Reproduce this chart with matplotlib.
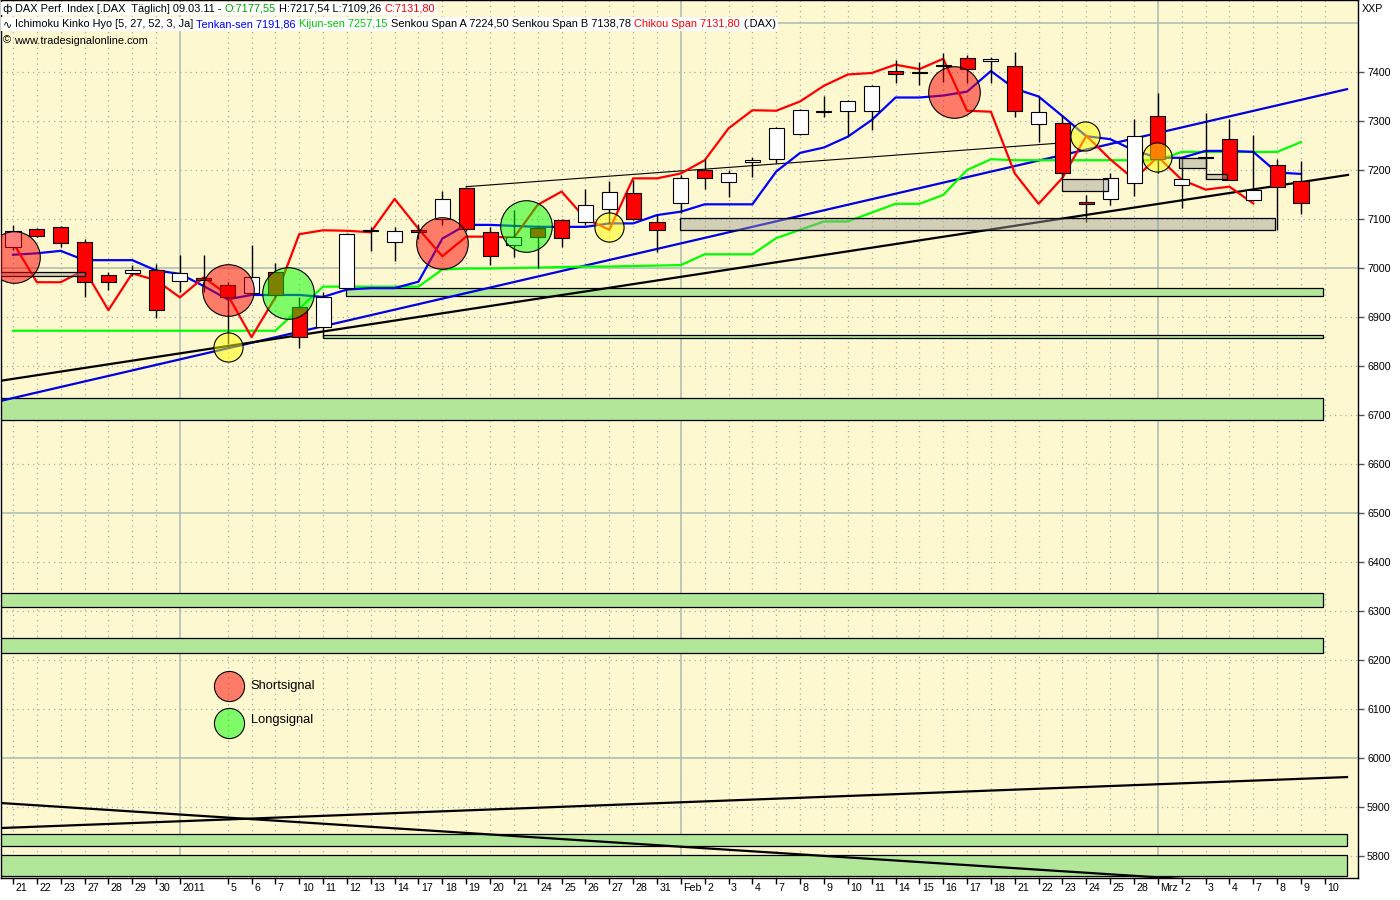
import matplotlib
matplotlib.use("Agg")
import matplotlib.pyplot as plt
from matplotlib.offsetbox import TextArea, HPacker, AnchoredOffsetbox
from matplotlib.transforms import ScaledTranslation

plt.rcParams['font.family'] = ['Liberation Sans', 'DejaVu Sans']

# ---- data (trading days 21.12.2010 - 10.03.2011) ----
day_labels = ['21', '22', '23', '27', '28', '29', '30', '2011', '', '5',
              '6', '7', '10', '11', '12', '13', '14', '17', '18', '19',
              '20', '21', '24', '25', '26', '27', '28', '31', 'Feb', '2',
              '3', '4', '7', '8', '9', '10', '11', '14', '15', '16',
              '17', '18', '21', '22', '23', '24', '25', '28', 'Mrz', '2',
              '3', '4', '7', '8', '9', '10']
month_starts = ['2011', 'Feb', 'Mrz']

opens = [7043, 7079, 7083, 7054, 6985, 6989, 6995, 6973, 6979, 6965,
         6948, 6992, 6920, 6879, 6959, 7075, 7054, 7078, 7100, 7163,
         7074, 7047, 7081, 7098, 7093, 7120, 7154, 7093, 7132, 7201,
         7175, 7216, 7222, 7273, 7318, 7321, 7320, 7403, 7400, 7413,
         7428, 7422, 7412, 7294, 7295, 7134, 7141, 7173, 7310, 7169,
         7224, 7263, 7139, 7210, 7177.55]
highs = [7088, 7082, 7085, 7059, 6992, 7006, 7008, 7027, 7027, 6972,
         7047, 7010, 6941, 6952, 7071, 7084, 7084, 7090, 7158, 7165,
         7084, 7118, 7088, 7101, 7161, 7178, 7180, 7108, 7190, 7222,
         7200, 7226, 7288, 7325, 7351, 7342, 7373, 7424, 7421, 7438,
         7435, 7430, 7441, 7350, 7312, 7150, 7193, 7305, 7357, 7226,
         7316, 7305, 7271, 7222, 7217.54]
lows = [7037, 7064, 7042, 6941, 6955, 6984, 6897, 6952, 6952, 6845,
        6946, 6940, 6836, 6860, 6957, 7035, 7014, 7060, 7088, 7075,
        7006, 7023, 6999, 7042, 7088, 7090, 7099, 7033, 7112, 7161,
        7144, 7185, 7214, 7271, 7309, 7269, 7282, 7377, 7373, 7380,
        7378, 7378, 7309, 7258, 7183, 7093, 7129, 7147, 7193, 7122,
        7181, 7180, 7137, 7078, 7109.26]
closes = [7076, 7066, 7052, 6971, 6971, 6996, 6914, 6989, 6975, 6940,
          6981, 6945, 6859, 6940, 7069, 7077, 7076, 7073, 7141, 7080,
          7024, 7064, 7064, 7062, 7129, 7156, 7101, 7078, 7183, 7183,
          7193, 7220, 7285, 7322, 7321, 7340, 7372, 7395, 7398, 7415,
          7406, 7427, 7321, 7319, 7193, 7131, 7184, 7270, 7222, 7181,
          7227, 7180, 7160, 7166, 7131.80]

tenkan = [7027, 7030, 7035, 7016, 7016, 7016, 6995, 6988, 6963, 6936,
          6945, 6945, 6945, 6941, 6956, 6959, 6959, 6972, 7060, 7088,
          7088, 7086, 7084, 7084, 7084, 7091, 7091, 7108, 7115, 7130,
          7130, 7130, 7197, 7235, 7246, 7268, 7302, 7348, 7348, 7352,
          7360, 7402, 7366, 7350, 7310, 7269, 7263, 7240, 7225, 7225,
          7239, 7239, 7237, 7195, 7192]
kijun = [6872, 6872, 6872, 6872, 6872, 6872, 6872, 6872, 6872, 6872,
         6872, 6872, 6917, 6962, 6962, 6962, 6962, 6962, 6997, 6999,
         6999, 7000, 7001, 7002, 7003, 7003, 7004, 7005, 7006, 7028,
         7028, 7028, 7061, 7078, 7095, 7095, 7113, 7131, 7131, 7149,
         7200, 7222, 7220, 7220, 7220, 7220, 7220, 7220, 7220, 7237,
         7237, 7237, 7237, 7237, 7257]
chikou_shift = 2

# trend lines: (x from, x to) in bar index, (value from, value to)
blue_trend_x, blue_trend_y = [-0.5, 55.93], [6729, 7365]
black_trend_x, black_trend_y = [-0.5, 55.97], [6770, 7190]
thin_trend_x, thin_trend_y = [19, 43.9], [7166, 7255]
low_up_x, low_up_y = [-0.5, 55.93], [5857, 5961]
low_down_x, low_down_y = [-0.5, 49.06], [5908, 5753]

# zones: start index, end index, low value, high value
green_zones = [(13.95, 54.92, 6943, 6959),
               (12.99, 54.92, 6857, 6863),
               (-0.6, 54.92, 6690, 6735),
               (-0.6, 54.92, 6308, 6337),
               (-0.6, 54.92, 6214, 6245),
               (-0.6, 55.93, 5820, 5845),
               (-0.6, 55.93, 5759, 5802)]
gap_boxes = [(27.98, 52.9, 7078, 7103),
             (-0.6, 3.0, 6984, 6992),
             (44.0, 45.9, 7157, 7181),
             (48.9, 50.0, 7204, 7225),
             (50.0, 50.9, 7181, 7191)]

short_x, short_y = [0.04, 9.0, 18.0, 39.46], [7022, 6955, 7051, 7359]
long_x, long_y = [11.52, 21.49], [6949, 7086]
small_x, small_y = [9.0, 24.97, 44.95, 47.97], [6839, 7084, 7269, 7227]

BG = '#fdf8cf'
GRID = '#a7bdb2'
DOTS = '#9fb3ac'

fig = plt.figure(figsize=(14, 9), dpi=100)
fig.patch.set_facecolor('white')
ax = fig.add_axes([1 / 1400, 22 / 900, 1357 / 1400, 878 / 900])
ax.set_facecolor(BG)
ax.set_xlim(-0.503, 56.39)
ax.set_ylim(5755, 7547)

n = len(closes)
idx = list(range(n))

# grid
for i, lab in enumerate(day_labels):
    if not lab:
        continue
    if lab in month_starts:
        ax.axvline(i, color=GRID, lw=1.1, zorder=0.5)
    else:
        ax.axvline(i, color=DOTS, lw=0.9, ls=(0, (1, 3.2)), zorder=0.5)
for v in range(5800, 7501, 100):
    if v % 500 == 0:
        ax.axhline(v, color=GRID, lw=1.1, zorder=0.5)
    else:
        ax.axhline(v, color=DOTS, lw=0.9, ls=(0, (1, 3.2)), zorder=0.5)

# zones
for x0, x1, lo, hi in green_zones:
    ax.add_patch(plt.Rectangle((x0, lo), x1 - x0, hi - lo, facecolor='#b2e799',
                               edgecolor='black', lw=0.9, zorder=1))

# trend lines
ax.plot(blue_trend_x, blue_trend_y, color='#0000e0', lw=1.6, zorder=2)
ax.plot(black_trend_x, black_trend_y, color='black', lw=1.6, zorder=2)
ax.plot(thin_trend_x, thin_trend_y, color='black', lw=0.8, zorder=2)
ax.plot(low_up_x, low_up_y, color='black', lw=1.6, zorder=2)
ax.plot(low_down_x, low_down_y, color='black', lw=1.6, zorder=2)

# ichimoku
ax.plot(idx, kijun, color='#00ff00', lw=1.6, zorder=2.5)
ax.plot(idx, tenkan, color='#0000ff', lw=1.6, zorder=2.5)
ax.plot(idx[:n - chikou_shift], closes[chikou_shift:], color='#ff0000', lw=1.6, zorder=2.6)

# candles
ax.vlines(idx, lows, highs, color='black', lw=1, zorder=3)
bottoms = [min(o, c) for o, c in zip(opens, closes)]
heights = [max(abs(c - o), 1.2) for o, c in zip(opens, closes)]
colors = ['white' if c >= o else '#ff0000' for o, c in zip(opens, closes)]
ax.bar(idx, heights, bottom=bottoms, width=0.63, color=colors,
       edgecolor='black', lw=0.8, zorder=3.5)

# gap boxes
for x0, x1, lo, hi in gap_boxes:
    ax.add_patch(plt.Rectangle((x0, lo), x1 - x0, hi - lo, facecolor=(0.62, 0.62, 0.6, 0.45),
                               edgecolor='black', lw=0.9, zorder=4))

# signals
big = 1380
ax.scatter(short_x, short_y, s=big, facecolors=[(1, 0, 0, 0.5)], edgecolors='black', lw=0.8, zorder=5)
ax.scatter(long_x, long_y, s=big, facecolors=[(0, 1, 0, 0.5)], edgecolors='black', lw=0.8, zorder=5)
ax.scatter(small_x, small_y, s=440, facecolors=[(1, 1, 0, 0.5)], edgecolors='black', lw=0.8, zorder=5)

# signal legend
ax.scatter([0.168], [0.2187], s=470, transform=ax.transAxes, facecolors=[(1, 0, 0, 0.5)],
           edgecolors='black', lw=0.8, zorder=6)
ax.scatter([0.168], [0.1766], s=470, transform=ax.transAxes, facecolors=[(0, 1, 0, 0.5)],
           edgecolors='black', lw=0.8, zorder=6)
ax.text(0.184, 0.2187, 'Shortsignal', transform=ax.transAxes, va='center', size=9.3)
ax.text(0.184, 0.1800, 'Longsignal', transform=ax.transAxes, va='center', size=9.3)

# axes
for sp in ax.spines.values():
    sp.set_color('black')
    sp.set_linewidth(1)
ax.yaxis.tick_right()
ax.set_yticks(range(5800, 7401, 100))
ax.set_yticklabels([str(v) for v in range(5800, 7401, 100)])
ax.tick_params(axis='y', direction='out', length=4, width=1, pad=2.5, labelsize=7.7,
               color='#555555')
ticks = [i for i, lab in enumerate(day_labels) if lab]
ax.set_xticks(ticks)
ax.set_xticklabels([day_labels[i] for i in ticks])
ax.tick_params(axis='x', direction='out', length=4, width=1, pad=-0.6, labelsize=7.7)
shift = ScaledTranslation(2.5 / 100, 0, fig.dpi_scale_trans)
for t in ax.get_xticklabels():
    t.set_ha('left')
    t.set_transform(t.get_transform() + shift)

fig.text(1362 / 1400, 1 - 9 / 900, 'XXP', size=7.7, va='center', ha='left')


# header
def header(parts, top_px, white):
    areas = []
    for txt, col, fam in parts:
        areas.append(TextArea(txt, textprops=dict(color=col, size=7.9, family=fam)))
    pack = HPacker(children=areas, align='baseline', pad=0, sep=2.3)
    box = AnchoredOffsetbox(loc='upper left', child=pack, pad=0.14, borderpad=0,
                            frameon=white, bbox_to_anchor=(1 / 1400, 1 - top_px / 900),
                            bbox_transform=fig.transFigure, prop=dict(size=7.9))
    box.patch.set_boxstyle('square,pad=0')
    box.patch.set_facecolor('white')
    box.patch.set_edgecolor('none')
    box.set_zorder(10)
    fig.add_artist(box)


LS = ['Liberation Sans', 'DejaVu Sans']
DJ = ['DejaVu Sans']
header([('ф', 'black', DJ),
        ('DAX Perf. Index [.DAX  Täglich] 09.03.11 -', 'black', LS),
        ('O:7177,55', '#00a000', LS),
        ('H:7217,54 L:7109,26', 'black', LS),
        ('C:7131,80', '#ff0000', LS)], 2, True)
header([('∿', 'black', DJ),
        ('Ichimoku Kinko Hyo [5, 27, 52, 3, Ja]', 'black', LS),
        ('Tenkan-sen 7191,86', '#0000ff', LS),
        ('Kijun-sen 7257,15', '#00cc00', LS),
        ('Senkou Span A 7224,50 Senkou Span B 7138,78', 'black', LS),
        ('Chikou Span 7131,80', '#ff0000', LS),
        ('(.DAX)', 'black', LS)], 17.5, True)
header([('©', 'black', LS),
        ('www.tradesignalonline.com', 'black', LS)], 34, False)

fig.savefig('out.png', dpi=100, facecolor='white')
